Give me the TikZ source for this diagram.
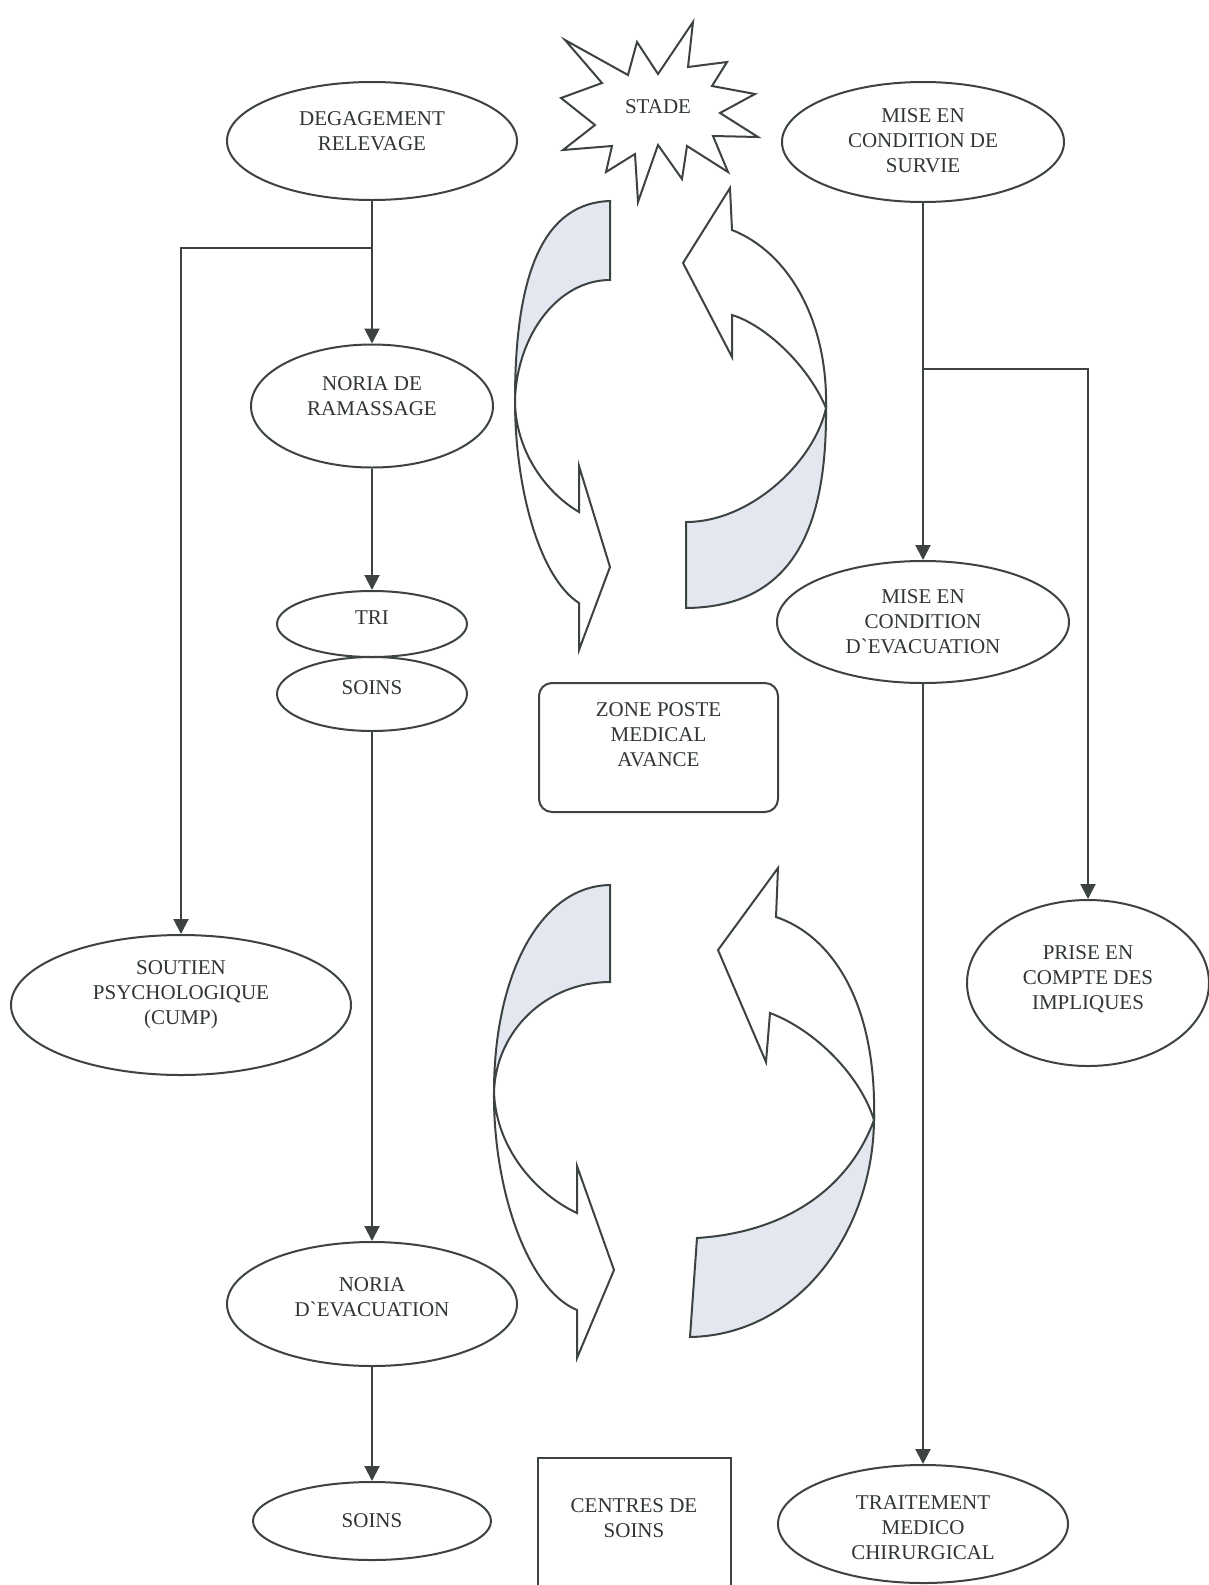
\documentclass[tikz,border=0pt]{standalone}
\usepackage{fontspec}
\setmainfont{Liberation Serif}[Ligatures=TeXOff]
\usetikzlibrary{arrows.meta,shapes.geometric}
\definecolor{ink}{HTML}{3D4343}
\definecolor{txt}{HTML}{303535}
\definecolor{band}{HTML}{E3E7EF}
\begin{document}
\begin{tikzpicture}[x=1pt,y=-1pt,
  every node/.style={font=\fontsize{21}{25}\selectfont, text=txt, align=center},
  ell/.style={ellipse, draw=ink, line width=2pt, inner sep=0pt},
  lbl/.style={inner sep=0pt},
  conn/.style={draw=ink, line width=2pt, -{Triangle[length=15pt,width=15pt]}},
  cycl/.style={draw=ink, line width=2pt, line join=miter},
  boxst/.style={draw=ink, line width=2pt, rectangle},
]
\path[use as bounding box, clip] (0,0) rectangle (1209,1585);
\fill[white] (0,0) rectangle (1209,1585);

% ---------- circular arrows, top ----------
\filldraw[cycl, fill=band] (610,201) .. controls (545,203) and (515,270) .. (515,400)
   .. controls (517,335) and (558,280) .. (610,280) -- cycle;
\filldraw[cycl, fill=white] (515,400) .. controls (515,490) and (540,578) .. (579,603)
   -- (579,650) -- (610,567) -- (579,466) -- (579,512)
   .. controls (545,492) and (515,450) .. (515,400) -- cycle;
\filldraw[cycl, fill=white] (732,230) .. controls (788,252) and (828,320) .. (826,408)
   .. controls (808,365) and (765,325) .. (732,315) -- (732,357) -- (683,263) -- (730,188) -- cycle;
\filldraw[cycl, fill=band] (826,408) .. controls (827,525) and (795,607) .. (686,608)
   -- (686,522) .. controls (752,522) and (815,460) .. (826,408) -- cycle;

% ---------- circular arrows, bottom ----------
\filldraw[cycl, fill=band] (610,885) .. controls (540,886) and (494,975) .. (494,1092)
   .. controls (496,1030) and (547,982) .. (610,982) -- cycle;
\filldraw[cycl, fill=white] (494,1092) .. controls (493,1190) and (528,1290) .. (577,1310)
   -- (577,1358) -- (614,1270) -- (577,1166) -- (577,1213)
   .. controls (538,1195) and (496,1150) .. (494,1092) -- cycle;
\filldraw[cycl, fill=white] (776,917) .. controls (830,935) and (877,1000) .. (874,1120)
   .. controls (860,1075) and (815,1030) .. (770,1013) -- (766,1062) -- (718,950) -- (778,868) -- cycle;
\filldraw[cycl, fill=band] (874,1120) .. controls (873,1230) and (800,1335) .. (690,1337)
   -- (697,1238) .. controls (790,1232) and (850,1185) .. (874,1120) -- cycle;

% ---------- star ----------
\begin{scope}[yshift=-12pt]
\draw[cycl, fill=white] (565,28) -- (628,63) -- (637,30) -- (658,62) -- (693,10) -- (688,55)
  -- (727,50) -- (712,74) -- (755,82) -- (720,101) -- (758,125) -- (713,124)
  -- (728,160) -- (687,134) -- (682,167) -- (658,133) -- (638,190) -- (635,142)
  -- (606,160) -- (612,134) -- (563,138) -- (595,113) -- (561,86) -- (602,71) -- cycle;
\end{scope}
\node[lbl] (stade) at (658,107) {STADE};

% ---------- left column ----------
\node[ell, minimum width=290pt, minimum height=118pt] (deg) at (372,141) {};
\node[lbl] (degT) at (372,131) {DEGAGEMENT\\RELEVAGE};
\node[ell, minimum width=242pt, minimum height=123pt] (noria1) at (372,406) {};
\node[lbl] (noria1T) at (372,396) {NORIA DE\\RAMASSAGE};
\node[ell, minimum width=190pt, minimum height=66pt] (tri) at (372,624) {};
\node[lbl] (triT) at (372,618) {TRI};
\node[ell, minimum width=190pt, minimum height=74pt] (soins1) at (372,694) {};
\node[lbl] (soins1T) at (372,688) {SOINS};
\node[ell, minimum width=340pt, minimum height=140pt] (soutien) at (181,1005) {};
\node[lbl] (soutienT) at (181,995) {SOUTIEN\\PSYCHOLOGIQUE\\(CUMP)};
\node[ell, minimum width=290pt, minimum height=124pt] (noria2) at (372,1304) {};
\node[lbl] (noria2T) at (372,1297) {NORIA\\D`EVACUATION};
\node[ell, minimum width=238pt, minimum height=78pt] (soins2) at (372,1521) {};
\node[lbl] (soins2T) at (372,1521) {SOINS};

% ---------- middle boxes ----------
\node[boxst, rounded corners=13pt, minimum width=239pt, minimum height=129pt] (zone) at (658.5,747.5) {};
\node[lbl] (zoneT) at (658.5,735) {ZONE POSTE\\MEDICAL\\AVANCE};
\node[boxst, minimum width=193pt, minimum height=200pt, anchor=north] (centres) at (634,1457) {};
\node[lbl] (centresT) at (634,1518) {CENTRES DE\\SOINS};

% ---------- right column ----------
\node[ell, minimum width=282pt, minimum height=120pt] (survie) at (923,142) {};
\node[lbl] (survieT) at (923,141) {MISE EN\\CONDITION DE\\SURVIE};
\node[ell, minimum width=292pt, minimum height=122pt] (evac) at (923,622) {};
\node[lbl] (evacT) at (923,622) {MISE EN\\CONDITION\\D`EVACUATION};
\node[ell, minimum width=242pt, minimum height=166pt] (prise) at (1088,983) {};
\node[lbl] (priseT) at (1088,979) {PRISE EN\\COMPTE DES\\IMPLIQUES};
\node[ell, minimum width=290pt, minimum height=118pt] (trait) at (923,1524) {};
\node[lbl] (traitT) at (923,1528) {TRAITEMENT\\MEDICO\\CHIRURGICAL};

% ---------- connectors ----------
\coordinate (bL) at (372,248);
\coordinate (bR) at (923,369);
\draw[conn] (deg.south) -- (noria1.north);
\draw[conn] (bL) -| (soutien.north);
\draw[conn] (noria1.south) -- (tri.north);
\draw[conn] (soins1.south) -- (noria2.north);
\draw[conn] (noria2.south) -- (soins2.north);
\draw[conn] (survie.south) -- (evac.north);
\draw[conn] (bR) -| (prise.north);
\draw[conn] (evac.south) -- (trait.north);
\end{tikzpicture}
\end{document}
